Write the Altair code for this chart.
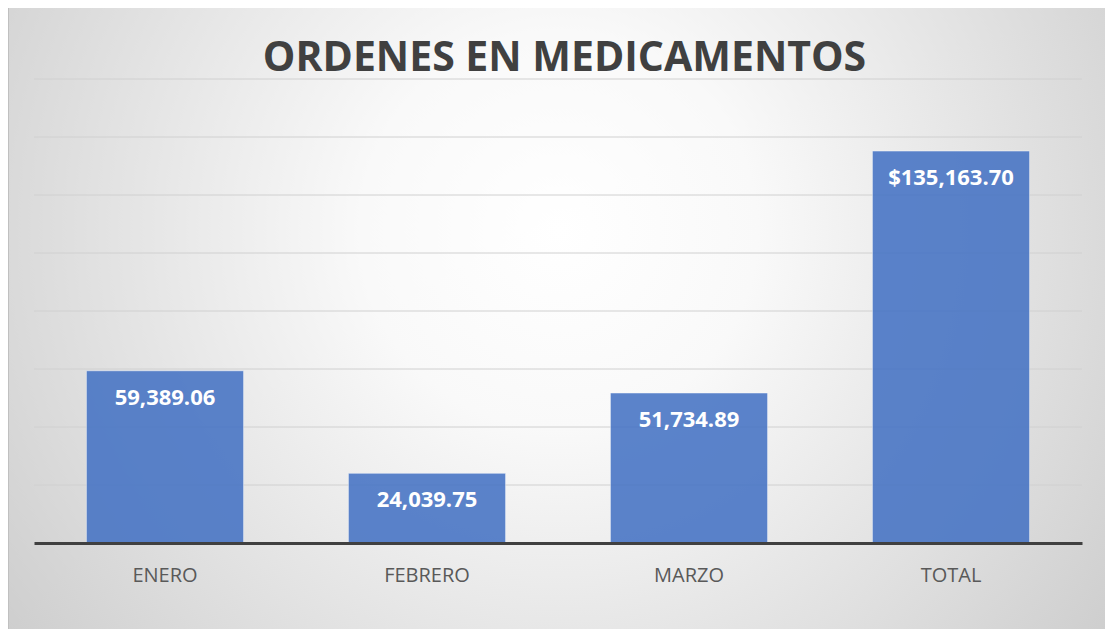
import altair as alt
import pandas as pd

categories = ["ENERO", "FEBRERO", "MARZO", "TOTAL"]
values = [59389.06, 24039.75, 51734.89, 135163.70]
labels = ["59,389.06", "24,039.75", "51,734.89", "$135,163.70"]
grid_values = [20000, 40000, 60000, 80000, 100000, 120000, 140000, 160000]
title_text = "ORDENES EN MEDICAMENTOS"

df = pd.DataFrame({"cat": categories, "val": values, "lab": labels})
grid_df = pd.DataFrame({"g": grid_values})

W, H = 1048, 464
PL, PT, PR, PB = 26, 71, 23, 90

yscale = alt.Scale(domain=[0, 160000], nice=False, zero=True)
xscale = alt.Scale(paddingInner=0.4, paddingOuter=0.2)

one = alt.Data(values=[{"a": 1}])

bg = alt.Chart(one).mark_rect(
    clip=False,
    fill={
        "gradient": "radial",
        "x1": 0.5, "y1": 0.42, "r1": 0,
        "x2": 0.5, "y2": 0.42, "r2": 0.72,
        "stops": [
            {"offset": 0, "color": "#ffffff"},
            {"offset": 0.25, "color": "#f9f9f9"},
            {"offset": 1, "color": "#c4c4c4"},
        ],
    },
    stroke="#c0c0c0",
    strokeWidth=1,
).encode(
    x=alt.value(-PL + 0.5),
    x2=alt.value(W + PR + 5),
    y=alt.value(-PT - 3.5),
    y2=alt.value(H + PB),
)

title = alt.Chart(one).mark_text(
    clip=False,
    font="Open Sans",
    fontSize=41,
    fontWeight="bold",
    color="#404040",
    align="center",
    baseline="alphabetic",
).encode(
    x=alt.value(530.5),
    y=alt.value(-8),
    text=alt.value(title_text),
)

grid = alt.Chart(grid_df).mark_rule(color="#d0d0d0", strokeWidth=1).encode(
    y=alt.Y("g:Q", scale=yscale, axis=None)
)

base = alt.Chart(df).encode(
    x=alt.X(
        "cat:N",
        sort=categories,
        scale=xscale,
        title=None,
        axis=alt.Axis(
            labelAngle=0,
            labelFont="Open Sans",
            labelFontSize=20,
            labelColor="#595959",
            labelPadding=22,
            ticks=False,
            domainColor="#404040",
            domainWidth=3,
            zindex=1,
        ),
    ),
    y=alt.Y("val:Q", scale=yscale, axis=None),
)

bars = base.mark_bar(
    color="#4472C4", opacity=0.87, stroke="#ffffff", strokeWidth=1, strokeOpacity=0.5
)

text = base.mark_text(
    baseline="middle",
    align="center",
    dy=27,
    font="Open Sans",
    fontSize=22,
    fontWeight="bold",
    color="#ffffff",
).encode(text="lab:N")

chart = alt.layer(bg, grid, bars, text, title).properties(
    width=W,
    height=H,
    autosize=alt.AutoSizeParams(type="none"),
    padding={"left": PL, "top": PT, "right": PR, "bottom": PB},
).configure_view(stroke=None).configure(background="#d0d0d0")

chart.save("out.html", embed_options={"renderer": "svg", "actions": False})
